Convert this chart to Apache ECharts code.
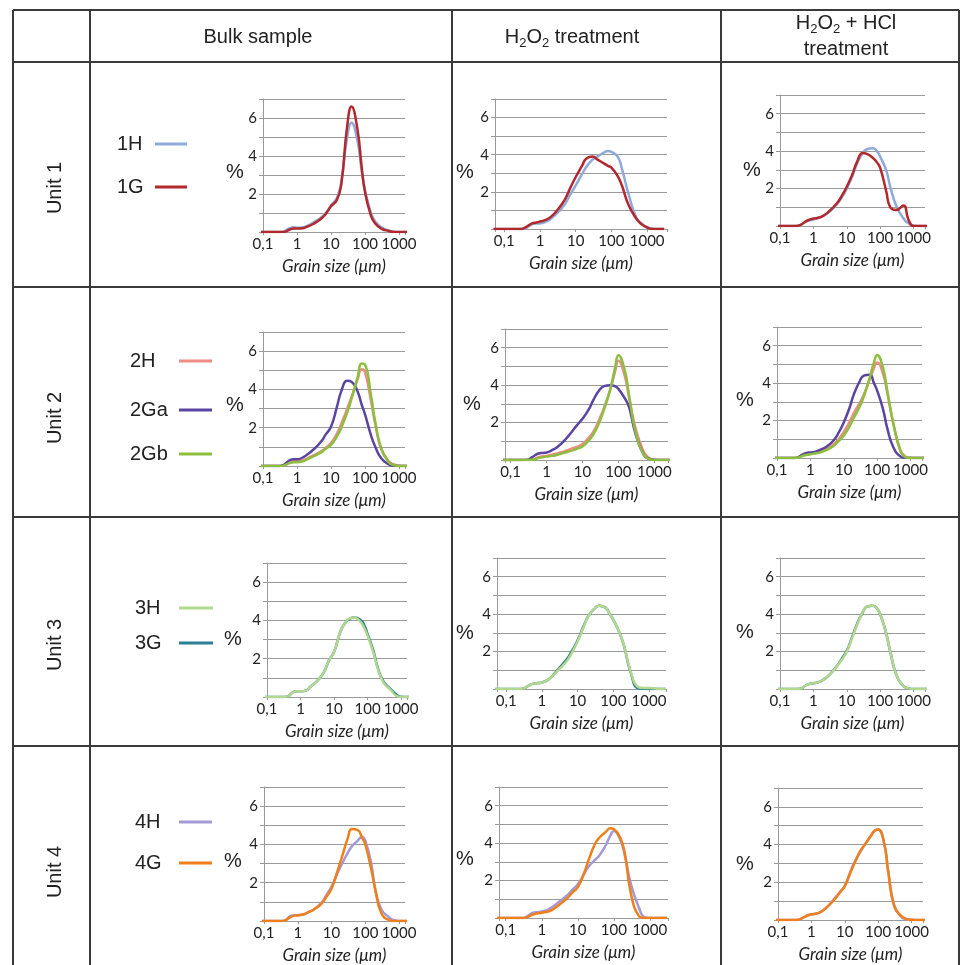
<!DOCTYPE html>
<html>
<head>
<meta charset="utf-8">
<title>Grain size distributions</title>
<script src="https://cdn.jsdelivr.net/npm/echarts@6/dist/echarts.min.js"></script>
<style>
  html, body { margin: 0; padding: 0; background: #fff; }
  #main { width: 963px; height: 965px; }
</style>
</head>
<body>
<div id="main"></div>
<script>
// grain size classes (µm), every curve uses them
const sizes = [0.05, 0.1, 0.2, 0.3, 0.4, 0.6, 0.8, 1, 1.5, 2, 3, 5, 7, 10, 15, 20, 30, 40, 60, 80, 100, 150, 200, 300, 500, 700, 1000, 1500, 2000, 3000]
const xTicks = [0.1, 1, 10, 100, 1000]
const yTicks = [2, 4, 6]
const units = ['Unit 1', 'Unit 2', 'Unit 3', 'Unit 4']
const sampleNames = [['1H', '1G'], ['2H', '2Ga', '2Gb'], ['3H', '3G'], ['4H', '4G']]
const sampleColors = [['#8eaad9', '#b3282d'], ['#ec8c84', '#5a45a3', '#8dbf3e'], ['#b2d78e', '#2d7f98'], ['#a399d6', '#f07f1a']]
// which sample is drawn over the others
const onTop = ['1G', '2Gb', '3H', '4G']

// unit 1 (% per class)
const u1Bulk1H = [0, 0, 0, 0, 0.02, 0.2, 0.25, 0.22, 0.25, 0.32, 0.5, 0.75, 1.0, 1.4, 1.8, 2.6, 5.0, 5.75, 4.8, 3.2, 2.2, 1.0, 0.55, 0.25, 0.08, 0.02, 0, 0, 0, 0]
const u1Bulk1G = [0, 0, 0, 0, 0, 0.12, 0.18, 0.18, 0.2, 0.28, 0.42, 0.68, 0.95, 1.35, 1.7, 2.5, 5.6, 6.6, 5.4, 3.4, 2.1, 0.85, 0.45, 0.18, 0.05, 0, 0, 0, 0, 0]
const u1Per1H = [0, 0, 0, 0, 0.05, 0.25, 0.3, 0.3, 0.4, 0.55, 0.85, 1.35, 1.85, 2.35, 2.95, 3.35, 3.75, 3.9, 4.1, 4.2, 4.15, 3.9, 3.2, 1.9, 0.6, 0.3, 0.1, 0.02, 0, 0]
const u1Per1G = [0, 0, 0, 0, 0.1, 0.3, 0.35, 0.4, 0.5, 0.65, 1.0, 1.6, 2.2, 2.8, 3.4, 3.8, 3.9, 3.75, 3.55, 3.4, 3.3, 2.85, 2.3, 1.3, 0.55, 0.25, 0.08, 0, 0, 0]
const u1Hcl1H = [0, 0, 0, 0, 0.05, 0.25, 0.3, 0.35, 0.45, 0.55, 0.75, 1.15, 1.5, 2.0, 2.7, 3.3, 3.9, 4.1, 4.15, 4.0, 3.7, 3.0, 2.1, 1.1, 0.4, 0.15, 0.02, 0, 0, 0]
const u1Hcl1G = [0, 0, 0, 0, 0.05, 0.25, 0.35, 0.4, 0.45, 0.55, 0.8, 1.2, 1.6, 2.1, 2.8, 3.4, 3.9, 3.85, 3.65, 3.4, 3.1, 1.9, 1.0, 0.85, 1.1, 0.35, 0, 0, 0, 0]

// unit 2
const u2Bulk2H = [0, 0, 0, 0, 0.02, 0.2, 0.25, 0.25, 0.3, 0.4, 0.55, 0.75, 0.95, 1.2, 1.7, 2.2, 3.0, 3.6, 4.5, 5.05, 4.9, 3.4, 2.2, 0.9, 0.25, 0.08, 0.01, 0, 0, 0]
const u2Bulk2Ga = [0, 0, 0, 0, 0.05, 0.3, 0.35, 0.35, 0.45, 0.6, 0.85, 1.25, 1.65, 2.05, 3.1, 3.9, 4.45, 4.4, 3.9, 3.2, 2.7, 1.6, 1.0, 0.4, 0.08, 0.01, 0, 0, 0, 0]
const u2Bulk2Gb = [0, 0, 0, 0, 0.02, 0.15, 0.2, 0.2, 0.25, 0.35, 0.5, 0.7, 0.9, 1.1, 1.55, 2.0, 2.8, 3.5, 4.6, 5.35, 5.3, 3.7, 2.3, 0.9, 0.2, 0.05, 0, 0, 0, 0]
const u2Per2H = [0, 0, 0, 0, 0.02, 0.15, 0.2, 0.22, 0.3, 0.35, 0.45, 0.6, 0.7, 0.85, 1.2, 1.5, 2.2, 2.8, 3.8, 4.7, 5.3, 4.5, 3.3, 1.7, 0.45, 0.12, 0.02, 0, 0, 0]
const u2Per2Ga = [0, 0, 0, 0.02, 0.15, 0.35, 0.38, 0.4, 0.55, 0.7, 1.0, 1.5, 1.85, 2.2, 2.7, 3.2, 3.75, 3.95, 4.0, 3.95, 3.8, 3.3, 2.8, 1.4, 0.3, 0.07, 0.01, 0, 0, 0]
const u2Per2Gb = [0, 0, 0, 0, 0.01, 0.1, 0.15, 0.18, 0.22, 0.28, 0.38, 0.5, 0.6, 0.72, 1.05, 1.35, 2.05, 2.7, 3.8, 4.9, 5.6, 4.8, 3.4, 1.5, 0.3, 0.06, 0, 0, 0, 0]
const u2Hcl2H = [0, 0, 0, 0, 0.02, 0.15, 0.2, 0.22, 0.28, 0.35, 0.5, 0.75, 1.0, 1.4, 1.95, 2.4, 2.95, 3.4, 4.2, 4.8, 5.1, 4.5, 3.5, 1.9, 0.4, 0.08, 0.01, 0, 0, 0]
const u2Hcl2Ga = [0, 0, 0, 0, 0.02, 0.2, 0.28, 0.3, 0.35, 0.45, 0.6, 0.95, 1.35, 1.9, 2.7, 3.4, 4.1, 4.4, 4.45, 4.0, 3.6, 2.6, 1.6, 0.6, 0.08, 0.01, 0, 0, 0, 0]
const u2Hcl2Gb = [0, 0, 0, 0, 0.01, 0.12, 0.17, 0.2, 0.25, 0.3, 0.42, 0.65, 0.9, 1.2, 1.7, 2.15, 2.75, 3.3, 4.3, 5.1, 5.5, 4.8, 3.6, 1.9, 0.35, 0.05, 0, 0, 0, 0]

// unit 3
const u3Bulk3H = [0, 0, 0, 0, 0.02, 0.25, 0.3, 0.3, 0.35, 0.55, 0.8, 1.3, 1.9, 2.35, 3.35, 3.8, 4.12, 4.15, 3.95, 3.6, 3.2, 2.3, 1.5, 0.75, 0.35, 0.08, 0, 0, 0, 0]
const u3Bulk3G = [0, 0, 0, 0, 0.02, 0.25, 0.3, 0.3, 0.35, 0.55, 0.8, 1.3, 1.9, 2.35, 3.35, 3.8, 4.1, 4.15, 4.05, 3.75, 3.3, 2.4, 1.55, 0.8, 0.4, 0.15, 0.01, 0, 0, 0]
const u3Per3H = [0, 0, 0, 0.02, 0.15, 0.3, 0.32, 0.35, 0.5, 0.7, 1.05, 1.5, 1.95, 2.55, 3.35, 3.9, 4.3, 4.45, 4.35, 4.0, 3.7, 3.0, 2.3, 1.0, 0.1, 0.05, 0.05, 0.03, 0, 0]
const u3Per3G = [0, 0, 0, 0.02, 0.15, 0.3, 0.32, 0.35, 0.5, 0.72, 1.1, 1.6, 2.05, 2.6, 3.4, 3.9, 4.3, 4.45, 4.35, 4.0, 3.7, 3.0, 2.3, 0.95, 0.02, 0, 0, 0, 0, 0]
const u3Hcl3H = [0, 0, 0, 0, 0.01, 0.2, 0.28, 0.3, 0.38, 0.5, 0.75, 1.2, 1.55, 2.0, 2.8, 3.4, 4.1, 4.4, 4.45, 4.3, 4.0, 3.0, 2.0, 0.8, 0.15, 0.04, 0, 0, 0, 0]
const u3Hcl3G = [0, 0, 0, 0, 0.01, 0.2, 0.28, 0.3, 0.38, 0.5, 0.75, 1.22, 1.6, 2.05, 2.85, 3.45, 4.1, 4.4, 4.45, 4.3, 4.0, 3.0, 2.0, 0.8, 0.15, 0.04, 0, 0, 0, 0]

// unit 4
const u4Bulk4H = [0, 0, 0, 0, 0.02, 0.25, 0.3, 0.3, 0.35, 0.45, 0.6, 0.95, 1.35, 1.8, 2.5, 2.95, 3.55, 3.9, 4.2, 4.4, 4.2, 3.0, 1.6, 0.6, 0.2, 0.04, 0, 0, 0, 0]
const u4Bulk4G = [0, 0, 0, 0, 0.02, 0.2, 0.28, 0.3, 0.35, 0.45, 0.6, 0.9, 1.25, 1.7, 2.6, 3.3, 4.3, 4.8, 4.75, 4.35, 4.0, 2.7, 1.6, 0.4, 0.05, 0, 0, 0, 0, 0]
const u4Per4H = [0, 0, 0, 0, 0.1, 0.3, 0.32, 0.35, 0.45, 0.6, 0.85, 1.2, 1.5, 1.8, 2.35, 2.75, 3.1, 3.35, 3.9, 4.4, 4.65, 4.2, 3.4, 1.8, 0.55, 0.05, 0, 0, 0, 0]
const u4Per4G = [0, 0, 0, 0, 0.05, 0.2, 0.25, 0.28, 0.35, 0.45, 0.7, 1.05, 1.35, 1.65, 2.4, 3.1, 3.95, 4.3, 4.6, 4.8, 4.75, 4.3, 3.5, 1.3, 0.1, 0, 0, 0, 0, 0]
const u4Hcl4H = [0, 0, 0, 0, 0.01, 0.15, 0.25, 0.3, 0.35, 0.45, 0.7, 1.15, 1.45, 1.8, 2.6, 3.1, 3.65, 4.0, 4.45, 4.75, 4.8, 4.1, 2.6, 0.8, 0.15, 0.05, 0.01, 0, 0, 0]
const u4Hcl4G = [0, 0, 0, 0, 0.01, 0.15, 0.25, 0.3, 0.35, 0.45, 0.7, 1.1, 1.45, 1.8, 2.55, 3.05, 3.7, 4.0, 4.45, 4.75, 4.8, 4.1, 2.55, 0.75, 0.2, 0.06, 0.01, 0, 0, 0]

// rows = units, columns = bulk / H2O2 / H2O2 + HCl
const curves = [
    [[u1Bulk1H, u1Bulk1G], [u1Per1H, u1Per1G], [u1Hcl1H, u1Hcl1G]],
    [[u2Bulk2H, u2Bulk2Ga, u2Bulk2Gb], [u2Per2H, u2Per2Ga, u2Per2Gb], [u2Hcl2H, u2Hcl2Ga, u2Hcl2Gb]],
    [[u3Bulk3H, u3Bulk3G], [u3Per3H, u3Per3G], [u3Hcl3H, u3Hcl3G]],
    [[u4Bulk4H, u4Bulk4G], [u4Per4H, u4Per4G], [u4Hcl4H, u4Hcl4G]]
]

// layout: plot boxes [left, top, right, bottom]
const boxes = [
    [[263, 99, 405, 232], [495, 99, 667, 229], [780, 95, 925, 226]],
    [[263, 332, 405, 466], [505, 329, 668, 460], [777, 327, 922, 458]],
    [[267, 563, 407, 697], [497, 558, 666, 689], [780, 558, 925, 689]],
    [[264, 787, 405, 921], [499, 787, 668, 918], [778, 788, 923, 920]]
]
const xRanges = [
    [[0.1, 1500], [0.055, 3600], [0.1, 2200]],
    [[0.1, 1500], [0.07, 2400], [0.1, 2200]],
    [[0.1, 1500], [0.055, 3000], [0.1, 2200]],
    [[0.1, 1500], [0.065, 3200], [0.1, 2200]]
]
const percentPos = [
    [[235, 172], [465, 172], [752, 170]],
    [[235, 405], [472, 404], [745, 400]],
    [[233, 639], [465, 633], [745, 632]],
    [[233, 861], [465, 859], [745, 864]]
]
const legendPos = [
    { x: 117, line: [155, 187], ys: [144, 187] },
    { x: 130, line: [179, 212], ys: [361, 410, 454] },
    { x: 135, line: [179, 213], ys: [608, 643] },
    { x: 135, line: [179, 212], ys: [822, 863] }
]
const unitY = [188, 418, 645, 872]
const colX = [13, 90, 452, 721, 959]
const rowY = [10, 62, 287, 517, 746]

const armFont = 'Liberation Sans'
const axisGray = '#9a9a9a'

function sizeLabel(v) {
    const t = xTicks.find(t => Math.abs(Math.log10(v) - Math.log10(t)) < 1e-6)
    if (t === undefined) return ''
    return String(t).replace('.', ',')
}

function plainText(x, y, text, align) {
    return {
        type: 'text', x: x, y: y,
        style: { text: text, fontFamily: armFont, fontSize: 20, fill: '#222', align: align, verticalAlign: 'middle', textAlign: align, textVerticalAlign: 'middle' }
    }
}

const grids = [], xAxes = [], yAxes = [], series = [], graphics = []

units.forEach((unit, r) => {
    for (let c = 0; c < 3; c++) {
        const i = r * 3 + c
        const b = boxes[r][c]
        grids.push({ left: b[0], top: b[1], width: b[2] - b[0], height: b[3] - b[1] })
        xAxes.push({
            type: 'log', logBase: 10, gridIndex: i,
            min: xRanges[r][c][0], max: xRanges[r][c][1],
            axisLine: { show: true, lineStyle: { color: axisGray } },
            axisTick: { show: true, length: 3, lineStyle: { color: axisGray } },
            minorTick: { show: false },
            splitLine: { show: false },
            axisLabel: { formatter: sizeLabel, fontFamily: 'Lato', fontSize: 15, color: '#222', margin: 5 },
            name: 'Grain size (μm)', nameLocation: 'middle', nameGap: 26,
            nameTextStyle: { fontFamily: 'Lato', fontStyle: 'italic', fontSize: 17, color: '#222' }
        })
        yAxes.push({
            type: 'value', gridIndex: i, min: 0, max: 7, interval: 1,
            axisLine: { show: true, lineStyle: { color: axisGray } },
            axisTick: { show: true, length: 4, lineStyle: { color: axisGray } },
            splitLine: { show: true, lineStyle: { color: axisGray, width: 1 } },
            axisLabel: {
                formatter: v => yTicks.indexOf(v) !== -1 ? String(v) : '',
                fontFamily: 'Lato', fontSize: 15, color: '#222', margin: 6
            }
        })
        curves[r][c].forEach((vals, k) => {
            const name = sampleNames[r][k]
            series.push({
                type: 'line', name: name,
                xAxisIndex: i, yAxisIndex: i,
                data: sizes.map((s, j) => [s, vals[j]]),
                smooth: 0.5,
                showSymbol: false, symbol: 'none', clip: true,
                z: onTop.indexOf(name) !== -1 ? 3 : 2,
                lineStyle: { width: 2.5, color: sampleColors[r][k] },
                itemStyle: { color: sampleColors[r][k] }
            })
        })
        // % sign next to the y axis
        graphics.push(plainText(percentPos[r][c][0], percentPos[r][c][1], '%', 'center'))
    }
    // unit label, rotated
    const ul = plainText(55, unitY[r], unit, 'center')
    ul.rotation = Math.PI / 2
    graphics.push(ul)
    // legend keys
    const lp = legendPos[r]
    sampleNames[r].forEach((name, k) => {
        graphics.push(plainText(lp.x, lp.ys[k], name, 'left'))
        graphics.push({
            type: 'line', shape: { x1: lp.line[0], y1: lp.ys[k], x2: lp.line[1], y2: lp.ys[k] },
            style: { stroke: sampleColors[r][k], lineWidth: 3 }
        })
    })
})

// table lines
colX.forEach(x => {
    graphics.push({ type: 'line', shape: { x1: x, y1: rowY[0], x2: x, y2: 965 }, style: { stroke: '#3a3a3a', lineWidth: 2 } })
})
rowY.forEach(y => {
    graphics.push({ type: 'line', shape: { x1: colX[0], y1: y, x2: colX[4], y2: y }, style: { stroke: '#3a3a3a', lineWidth: 2 } })
})

// column headers
const subRich = {
    n: { fontFamily: armFont, fontSize: 20, fill: '#222', color: '#222' },
    s: { fontFamily: armFont, fontSize: 13, fill: '#222', color: '#222', padding: [12, 0, 0, 0] }
}
graphics.push(plainText(258, 37, 'Bulk sample', 'center'))
graphics.push({
    type: 'text', x: 572, y: 37,
    style: { text: '{n|H}{s|2}{n|O}{s|2}{n| treatment}', rich: subRich, align: 'center', verticalAlign: 'middle', textAlign: 'center', textVerticalAlign: 'middle' }
})
graphics.push({
    type: 'text', x: 846, y: 23,
    style: { text: '{n|H}{s|2}{n|O}{s|2}{n| + HCl}', rich: subRich, align: 'center', verticalAlign: 'middle', textAlign: 'center', textVerticalAlign: 'middle' }
})
graphics.push(plainText(846, 49, 'treatment', 'center'))

const chart = echarts.init(document.getElementById('main'))
chart.setOption({
    animation: false,
    backgroundColor: '#fff',
    grid: grids,
    xAxis: xAxes,
    yAxis: yAxes,
    series: series,
    graphic: { elements: graphics }
})
</script>
</body>
</html>
